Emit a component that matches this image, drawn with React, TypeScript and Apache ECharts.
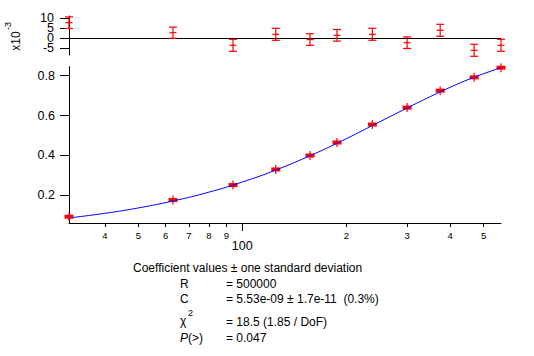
import React, { useEffect, useRef } from "react";
import * as echarts from "echarts";

// Measured data (x = angular frequency, y = response)
const xVals = [31.5, 63, 94, 125, 157, 188, 238, 300, 374, 469, 561];
const yVals = [0.093, 0.1765, 0.2515, 0.33, 0.4, 0.465, 0.555, 0.64, 0.725, 0.7915, 0.84];
// Residuals (x10^-3) and their error bars
const resVals = [7.8, 2.8, -3.5, 2.0, -0.6, 1.5, 2.0, -2.2, 4.0, -6.0, -3.5];
const resErr = [2.9, 2.8, 3.0, 3.0, 2.9, 2.9, 3.0, 2.9, 3.0, 3.0, 3.0];
// Fit curve
const fitX = [31.5, 40, 50, 63, 80, 100, 125, 160, 200, 250, 300, 350, 400, 450, 500, 561];
const fitY = [0.087, 0.11, 0.137, 0.172, 0.216, 0.267, 0.327, 0.405, 0.484, 0.569, 0.638, 0.695, 0.742, 0.78, 0.81, 0.8405];
// Ticks
const minorXTicks = [40, 50, 60, 70, 80, 90, 200, 300, 400, 500];
const majorXTicks = [100];
const mainYTicks = [0.2, 0.4, 0.6, 0.8];
const resYTicks = [-5, 0, 5, 10];
const resYLabelsA = [10, 0];
const resYLabelsB = [5, -5];

const FONT = "Liberation Sans, Arial, sans-serif";
const X_MIN = 31.5;
const X_MAX = 561;
const R_MIN = -8.35;
const R_MAX = 11.15;

export default function App() {
  const ref = useRef<HTMLDivElement>(null);
  useEffect(() => {
    if (!ref.current) return;
    const chart = echarts.init(ref.current, null, { renderer: "svg" });
    const axisLine = { show: true, lineStyle: { color: "#000", width: 1 } };
    const resLabel = { show: true, margin: 15, fontSize: 12.5, color: "#000", fontFamily: FONT, hideOverlap: false };
    const option: any = {
      animation: false,
      backgroundColor: "#fff",
      grid: [
        { left: 69, right: 33, top: 16, height: 39 },
        { left: 69, right: 33, top: 66.7, bottom: 133 },
      ],
      xAxis: [
        {
          type: "log", gridIndex: 0, min: X_MIN, max: X_MAX,
          axisLine: { ...axisLine, onZero: true },
          axisTick: { show: false }, axisLabel: { show: false },
          splitLine: { show: false }, minorTick: { show: false },
        },
        {
          type: "log", gridIndex: 1, min: X_MIN, max: X_MAX, position: "bottom",
          axisLine,
          axisTick: { show: true, length: 4, customValues: minorXTicks, lineStyle: { color: "#000" } },
          axisLabel: {
            show: true, customValues: minorXTicks, margin: 7, fontSize: 9.5, hideOverlap: false,
            color: "#000", fontFamily: FONT,
            formatter: (v: number) => String(Math.round(v / Math.pow(10, Math.floor(Math.log10(v) + 1e-9)))),
          },
          splitLine: { show: false }, minorTick: { show: false },
        },
        {
          type: "log", gridIndex: 1, min: X_MIN, max: X_MAX, position: "bottom",
          axisLine: { show: false },
          axisTick: { show: true, length: 8, customValues: majorXTicks, lineStyle: { color: "#000" } },
          axisLabel: {
            show: true, customValues: majorXTicks, margin: 16, fontSize: 12.5,
            color: "#000", fontFamily: FONT, formatter: (v: number) => String(Math.round(v)),
          },
          splitLine: { show: false }, minorTick: { show: false },
        },
      ],
      yAxis: [
        {
          type: "value", gridIndex: 0, min: R_MIN, max: R_MAX, position: "left",
          axisLine: { ...axisLine, onZero: false },
          axisTick: { show: true, length: 9, customValues: resYTicks, lineStyle: { color: "#000" } },
          axisLabel: { ...resLabel, customValues: resYLabelsA },
          splitLine: { show: false },
        },
        {
          type: "value", gridIndex: 1, min: 0.0615, max: 0.845,
          axisLine: { ...axisLine, onZero: false },
          axisTick: { show: true, length: 9, customValues: mainYTicks, lineStyle: { color: "#000" } },
          axisLabel: {
            show: true, customValues: mainYTicks, margin: 14, fontSize: 12.5, color: "#000", fontFamily: FONT,
            formatter: (v: number) => v.toFixed(1),
          },
          splitLine: { show: false },
        },
        {
          type: "value", gridIndex: 0, min: R_MIN, max: R_MAX, position: "left", offset: 0,
          axisLine: { show: false, onZero: false },
          axisTick: { show: false },
          axisLabel: { ...resLabel, customValues: resYLabelsB },
          splitLine: { show: false },
        },
      ],
      series: [
        {
          type: "custom", xAxisIndex: 0, yAxisIndex: 0, clip: false,
          data: xVals.map((x, i) => [x, resVals[i], resErr[i]]),
          renderItem: (params: any, api: any) => {
            const x = api.value(0), y = api.value(1), e = api.value(2);
            const c = api.coord([x, y]);
            const t = api.coord([x, y + e]);
            const b = api.coord([x, y - e]);
            const st = { stroke: "#ff0000", lineWidth: 1.2, fill: "none" };
            return {
              type: "group",
              children: [
                { type: "line", shape: { x1: c[0], y1: t[1], x2: c[0], y2: b[1] }, style: st },
                { type: "line", shape: { x1: c[0] - 4, y1: t[1], x2: c[0] + 4, y2: t[1] }, style: st },
                { type: "line", shape: { x1: c[0] - 4, y1: b[1], x2: c[0] + 4, y2: b[1] }, style: st },
                { type: "line", shape: { x1: c[0] - 3.5, y1: c[1], x2: c[0] + 3.5, y2: c[1] }, style: st },
              ],
            };
          },
        },
        {
          type: "line", xAxisIndex: 1, yAxisIndex: 1,
          data: fitX.map((x, i) => [x, fitY[i]]),
          smooth: true, symbol: "none",
          lineStyle: { color: "#0000ff", width: 1 },
          z: 3,
        },
        {
          type: "custom", xAxisIndex: 1, yAxisIndex: 1, clip: false, z: 2,
          data: xVals.map((x, i) => [x, yVals[i]]),
          renderItem: (params: any, api: any) => {
            const c = api.coord([api.value(0), api.value(1)]);
            return {
              type: "group",
              children: [
                { type: "rect", shape: { x: c[0] - 4.5, y: c[1] - 2, width: 9, height: 4 }, style: { fill: "#ff0000" } },
                { type: "line", shape: { x1: c[0], y1: c[1] - 4.5, x2: c[0], y2: c[1] + 4.5 }, style: { stroke: "#ff0000", lineWidth: 1.2 } },
              ],
            };
          },
        },
      ],
      graphic: [
        { type: "text", x: 16, y: 41, rotation: Math.PI / 2, style: { text: "x10", fontSize: 12, fontFamily: FONT, fill: "#000", align: "center", verticalAlign: "middle" } },
        { type: "text", x: 8, y: 26, rotation: Math.PI / 2, style: { text: "-3", fontSize: 9, fontFamily: FONT, fill: "#000", align: "center", verticalAlign: "middle" } },
        { type: "text", x: 133, y: 268, style: { text: "Coefficient values ± one standard deviation", fontSize: 12, fontFamily: FONT, fill: "#000", verticalAlign: "middle" } },
        { type: "text", x: 180, y: 283.5, style: { text: "R", fontSize: 12, fontFamily: FONT, fill: "#000", verticalAlign: "middle" } },
        { type: "text", x: 226, y: 283.5, style: { text: "= 500000", fontSize: 12, fontFamily: FONT, fill: "#000", verticalAlign: "middle" } },
        { type: "text", x: 180, y: 298.5, style: { text: "C", fontSize: 12, fontFamily: FONT, fill: "#000", verticalAlign: "middle" } },
        { type: "text", x: 226, y: 298.5, style: { text: "= 5.53e-09 ± 1.7e-11  (0.3%)", fontSize: 12, fontFamily: FONT, fill: "#000", verticalAlign: "middle" } },
        { type: "text", x: 180, y: 321, style: { text: "χ", fontSize: 12, fontFamily: FONT, fill: "#000", verticalAlign: "middle" } },
        { type: "text", x: 188, y: 313, style: { text: "2", fontSize: 9, fontFamily: FONT, fill: "#000", verticalAlign: "middle" } },
        { type: "text", x: 226, y: 322, style: { text: "= 18.5 (1.85 / DoF)", fontSize: 12, fontFamily: FONT, fill: "#000", verticalAlign: "middle" } },
        {
          type: "text", x: 180, y: 337.5,
          style: {
            text: "{i|P}(>)", fontSize: 12, fontFamily: FONT, fill: "#000", verticalAlign: "middle",
            rich: { i: { fontStyle: "italic", fontSize: 12, fontFamily: FONT } },
          },
        },
        { type: "text", x: 226, y: 337.5, style: { text: "= 0.047", fontSize: 12, fontFamily: FONT, fill: "#000", verticalAlign: "middle" } },
      ],
    };
    chart.setOption(option);
    return () => chart.dispose();
  }, []);
  return <div ref={ref} style={{ position: "fixed", left: 0, top: 0, width: 534, height: 356 }} />;
}
